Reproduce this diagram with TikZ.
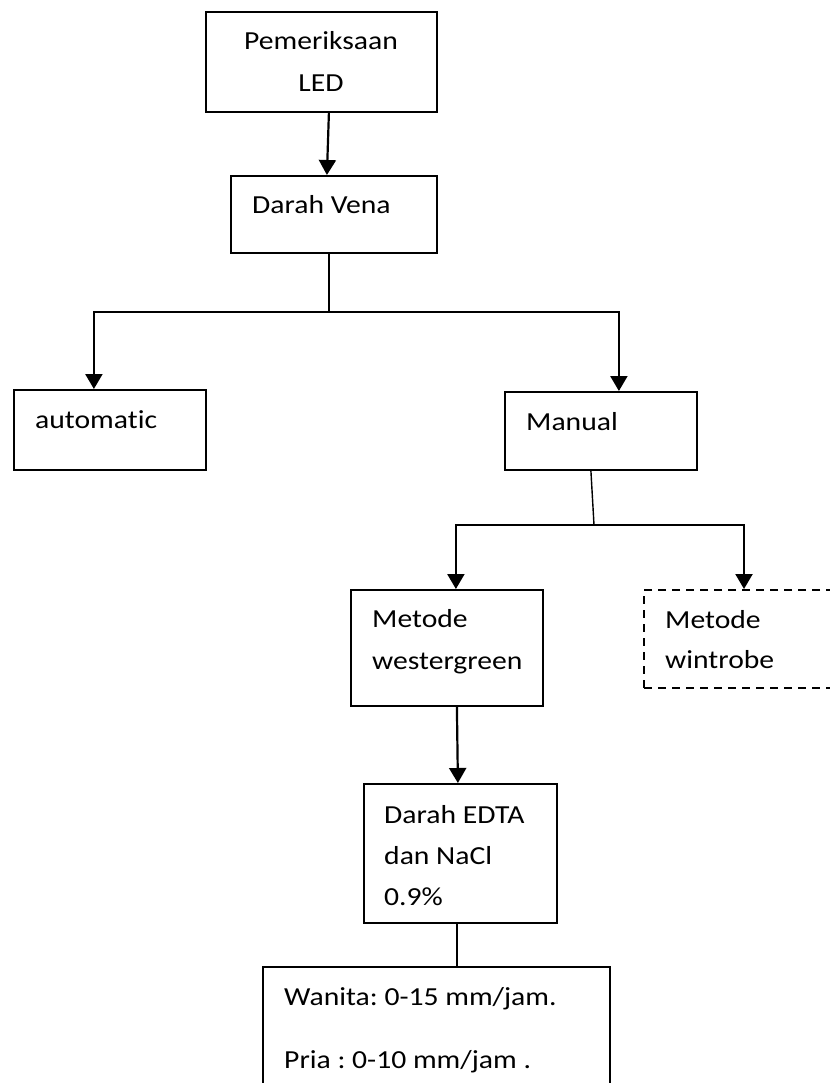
\documentclass[tikz,border=0pt]{standalone}
\usepackage{fontspec}
\setmainfont{Carlito}[FakeStretch=1.14,Ligatures={NoCommon}]
\frenchspacing
\usetikzlibrary{arrows.meta}
\tikzset{
  box/.style={draw, line width=1.8pt, rectangle, anchor=north west, inner sep=0pt},
  dbox/.style={box, dash pattern=on 8pt off 6pt, line width=2pt},
  txt/.style={anchor=base west, inner sep=0pt, font=\fontsize{26}{30}\selectfont},
  ctxt/.style={txt, anchor=base},
  arr/.style={line width=2.2pt, -{Triangle[length=15pt,width=17pt]}},
  thinline/.style={line width=1.4pt}
}
\begin{document}
\begin{tikzpicture}[x=1pt,y=-1pt]
\useasboundingbox[fill=white] (0,0) rectangle (829,1083);
% boxes
\node[box, minimum width=231pt, minimum height=100pt] (led) at (205,11) {};
\node[box, minimum width=206pt, minimum height=77pt] (vena) at (230,175) {};
\node[box, minimum width=192pt, minimum height=80pt] (auto) at (13,389) {};
\node[box, minimum width=192pt, minimum height=78pt] (manual) at (504,391) {};
\node[box, minimum width=192pt, minimum height=116pt] (west) at (350,589) {};
\node[dbox, minimum width=200pt, minimum height=98pt] (wint) at (643,589) {};
\node[box, minimum width=193pt, minimum height=139pt] (edta) at (363,783) {};
\node[box, minimum width=347pt, minimum height=150pt] (hasil) at (262,966) {};
% texts
\node[ctxt] (ledA) at (321,50) {Pemeriksaan};
\node[ctxt] (ledB) at (321,92) {LED};
\node[txt] (venaA) at (252,214) {Darah Vena};
\node[txt] (autoA) at (35,428) {automatic};
\node[txt] (manA) at (526,430) {Manual};
\node[txt] (westA) at (372,627) {Metode};
\node[txt] (westB) at (372,669) {westergreen};
\node[txt] (wintA) at (665,628) {Metode};
\node[txt] (wintB) at (665,668) {wintrobe};
\node[txt] (edtaA) at (384,823) {Darah EDTA};
\node[txt] (edtaB) at (384,864) {dan NaCl};
\node[txt] (edtaC) at (384,905) {0.9\%};
\node[txt] (hasA) at (284,1005) {Wanita: 0-15 mm/jam.};
\node[txt] (hasB) at (284,1068) {Pria : 0-10 mm/jam .};
% connectors
\draw[arr] ([xshift=7.5pt]led.south) -- ([xshift=-7pt]vena.north);
\draw[thinline] ([xshift=-5pt]vena.south) -- ++(0,58) coordinate (j1);
\draw[arr] (j1) -| ([xshift=-16pt]auto.north);
\draw[arr] (j1) -| ([xshift=18pt]manual.north);
\coordinate (j2) at (594,525);
\draw[thinline] ([xshift=-10pt]manual.south) -- (j2);
\draw[arr] (j2) -| ([xshift=9pt]west.north);
\draw[arr] (j2) -| (wint.north);
\draw[arr] ([xshift=10pt]west.south) -- ([xshift=-2.5pt]edta.north);
\draw[thinline] ([xshift=-3.5pt]edta.south) -- ([xshift=20.5pt]hasil.north);
\end{tikzpicture}
\end{document}
